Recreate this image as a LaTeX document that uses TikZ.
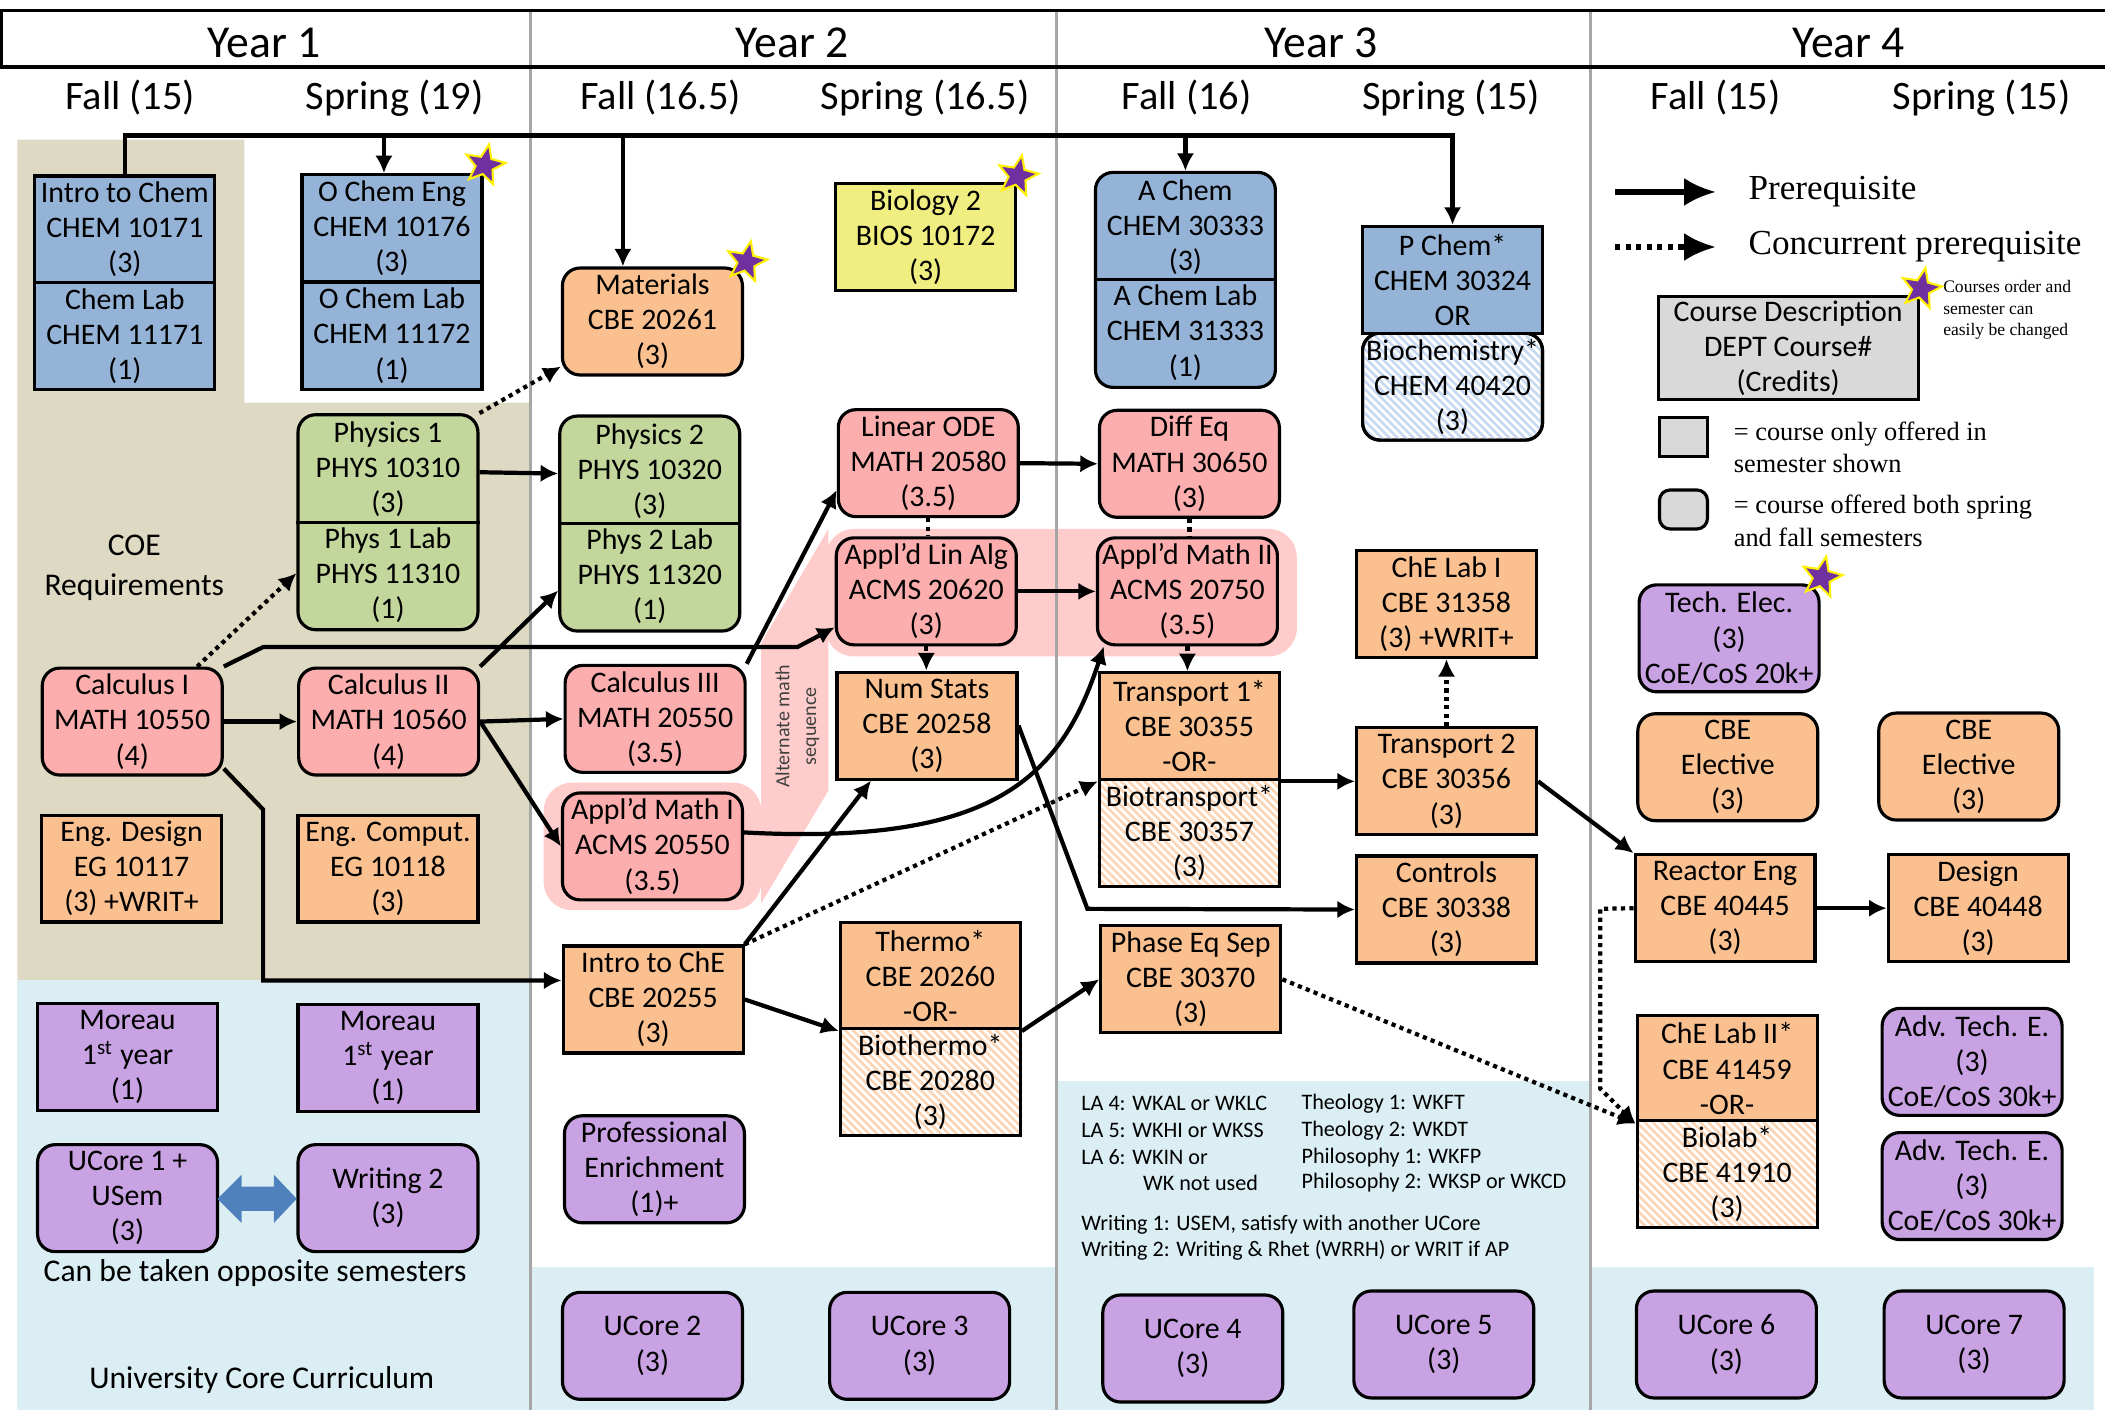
\documentclass[tikz,border=0pt]{standalone}
\usepackage{fontspec}
\setmainfont{Carlito}
\newfontfamily\legfont{Liberation Serif}
\usetikzlibrary{shapes.geometric,patterns.meta,arrows.meta}

\definecolor{chemblue}{HTML}{95B3D7}
\definecolor{physgreen}{HTML}{C3D69B}
\definecolor{mathpink}{HTML}{FCAEAE}
\definecolor{cbeorange}{HTML}{FAC090}
\definecolor{ucorepurple}{HTML}{C8A2E2}
\definecolor{bioyellow}{HTML}{F0EE80}
\definecolor{hlpink}{HTML}{FFCCCC}
\definecolor{coetan}{HTML}{DDD9C3}
\definecolor{ucblue}{HTML}{DBEEF4}
\definecolor{leggray}{HTML}{D9D9D9}
\definecolor{starpurple}{HTML}{7030A0}
\definecolor{dblblue}{HTML}{4F81BD}
\definecolor{hatchorange}{HTML}{FBD4B4}
\definecolor{hatchblue}{HTML}{C6D9F0}
\definecolor{divgray}{HTML}{A6A6A6}

\newcommand{\crsfont}{\fontsize{8.5}{10}\selectfont}

\tikzset{
  course/.style={draw, line width=0.9pt, minimum width=1.8cm, minimum height=1.07cm,
    inner sep=0pt, align=center, font=\crsfont},
  rcourse/.style={course, rounded corners=5pt},
  tall/.style={minimum height=2.15cm},
  chem/.style={fill=chemblue},
  phys/.style={fill=physgreen},
  math/.style={fill=mathpink},
  cbe/.style={fill=cbeorange},
  ucore/.style={fill=ucorepurple},
  bio/.style={fill=bioyellow},
  hatch/.style={fill=white,
    postaction={pattern={Lines[angle=-45,distance=1.6pt,line width=0.75pt]}, pattern color=#1},
    postaction={draw}},
  arr/.style={-{Latex[length=5pt,width=5pt]}, line width=1.2pt},
  dotarr/.style={arr, dash pattern=on 1.2pt off 1.2pt},
  dotln/.style={line width=1.2pt, dash pattern=on 1.2pt off 1.2pt},
  legarr/.style={-{Latex[length=9pt,width=8pt]}, line width=1.5pt},
  pstar/.style={star, star points=5, star point ratio=2.3, minimum size=0.42cm, inner sep=0pt,
    fill=starpurple, draw=yellow, line width=0.6pt, rotate=-12},
  yearlbl/.style={font=\fontsize{13}{15}\selectfont},
  semlbl/.style={font=\fontsize{11.5}{14}\selectfont},
  note/.style={anchor=west, inner sep=0pt, font=\fontsize{6.3}{7.6}\selectfont},
  legtxt/.style={anchor=west, inner sep=0pt, align=left, font=\legfont\fontsize{7.5}{9.2}\selectfont},
  divline/.style={divgray, line width=0.8pt}
}

\begin{document}
\begin{tikzpicture}[x=0.013425cm, y=-0.013425cm]
  \useasboundingbox (0,0) rectangle (1568,1050);

  % backgrounds
  \fill[coetan] (13,104) -- (182,104) -- (182,300) -- (395,300) -- (395,730) -- (13,730) -- cycle;
  \fill[ucblue] (13,730) rectangle (395,1050);
  \fill[ucblue] (395,944) rectangle (1560,1050);
  \fill[ucblue] (787,805) rectangle (1185,944);
  \fill[hlpink, rounded corners=8pt] (615,394) rectangle (966,489);
  \fill[hlpink] (567,673) -- (567,479) -- (617,394) -- (617,589) -- cycle;
  \fill[hlpink, rounded corners=8pt] (405,583) rectangle (567,678);

  % header
  \draw[divline] (395,8) -- (395,1050);
  \draw[divline] (787,8) -- (787,1050);
  \draw[divline] (1185,8) -- (1185,1050);
  \draw[line width=1pt] (0,8) -- (1568,8);
  \draw[line width=1pt] (0,50) -- (1568,50);
  \draw[line width=1pt] (0.8,8) -- (0.8,50);
  \foreach \yx/\yr in {197/1, 590/2, 984/3, 1377/4}
    \node[yearlbl] (year\yr) at (\yx,32) {Year \yr};
  \foreach \sx/\sn [count=\i] in {97/Fall (15), 294/Spring (19), 492/Fall (16.5), 689/Spring (16.5),
      884/Fall (16), 1081/Spring (15), 1278/Fall (15), 1476/Spring (15)}
    \node[semlbl] (sem\i) at (\sx,73) {\sn};

  % year 1
  \node[course, chem] (ichem) at (93,171) {Intro to Chem\\CHEM 10171\\(3)};
  \node[course, chem] (clab) at (93,250.5) {Chem Lab\\CHEM 11171\\(1)};
  \node[course, chem] (ochem) at (292,170) {O Chem Eng\\CHEM 10176\\(3)};
  \node[course, chem] (oclab) at (292,250) {O Chem Lab\\CHEM 11172\\(1)};
  \node[rcourse, phys, tall] (phys1) at (289,389) {Physics 1\\PHYS 10310\\(3)\\Phys 1 Lab\\PHYS 11310\\(1)};
  \draw[line width=0.9pt] (phys1.west) -- (phys1.east);
  \node[font=\fontsize{9}{11.4}\selectfont, align=center] (coe) at (100,423) {COE\\Requirements};
  \node[rcourse, math] (calc1) at (98.5,537.5) {Calculus I\\MATH 10550\\(4)};
  \node[rcourse, math] (calc2) at (289.5,537.5) {Calculus II\\MATH 10560\\(4)};
  \node[course, cbe] (engdes) at (98,647) {Eng. Design\\EG 10117\\(3) +WRIT+};
  \node[course, cbe] (engcomp) at (289,647) {Eng. Comput.\\EG 10118\\(3)};
  \node[course, ucore] (moreau1) at (95,787.5) {Moreau\\1\textsuperscript{st} year\\(1)};
  \node[course, ucore] (moreau2) at (289,788) {Moreau\\1\textsuperscript{st} year\\(1)};
  \node[rcourse, ucore] (ucore1) at (95,892.5) {UCore 1 +\\USem\\(3)};
  \node[rcourse, ucore] (writ2) at (289,892.5) {Writing 2\\(3)};
  \fill[dblblue] (162,893) -- (180,875) -- (180,884) -- (204,884) -- (204,875) -- (221,893)
    -- (204,911) -- (204,902) -- (180,902) -- (180,911) -- cycle;
  \node[font=\fontsize{9}{11}\selectfont] (opp) at (190,948) {Can be taken opposite semesters};
  \node[font=\fontsize{9}{11}\selectfont] (ucc) at (195,1028) {University Core Curriculum};

  % year 2
  \node[rcourse, cbe] (materials) at (486,239.5) {Materials\\CBE 20261\\(3)};
  \node[course, bio] (bio2) at (689.5,176.5) {Biology 2\\BIOS 10172\\(3)};
  \node[rcourse, phys, tall] (phys2) at (484,390) {Physics 2\\PHYS 10320\\(3)\\Phys 2 Lab\\PHYS 11320\\(1)};
  \draw[line width=0.9pt] (phys2.west) -- (phys2.east);
  \node[rcourse, math] (calc3) at (488,535.5) {Calculus III\\MATH 20550\\(3.5)};
  \node[rcourse, math] (amath1) at (486,630.5) {Appl’d Math I\\ACMS 20550\\(3.5)};
  \node[rcourse, math] (linode) at (691.5,345) {Linear ODE\\MATH 20580\\(3.5)};
  \node[rcourse, math] (linalg) at (690,440.5) {Appl’d Lin Alg\\ACMS 20620\\(3)};
  \node[course, cbe] (numstats) at (690.5,540.5) {Num Stats\\CBE 20258\\(3)};
  \node[rotate=90, align=center, text=black!75, font=\fontsize{5.7}{7.6}\selectfont] (altmath) at (594,541) {Alternate math\\sequence};
  \node[course, cbe] (introche) at (486.5,744.5) {Intro to ChE\\CBE 20255\\(3)};
  \node[course, cbe] (thermo) at (693,727) {Thermo*\\CBE 20260\\-OR-};
  \node[course, hatch=hatchorange] (biothermo) at (693,806) {Biothermo*\\CBE 20280\\(3)};
  \node[rcourse, ucore] (profenr) at (487.5,871) {Professional\\Enrichment\\(1)+};
  \node[rcourse, ucore] (ucore2) at (486,1002.5) {UCore 2\\(3)};
  \node[rcourse, ucore] (ucore3) at (685,1002.5) {UCore 3\\(3)};

  % year 3
  \node[rcourse, chem, tall] (achem) at (883,208.5) {A Chem\\CHEM 30333\\(3)\\A Chem Lab\\CHEM 31333\\(1)};
  \draw[line width=0.9pt] (achem.west) -- (achem.east);
  \node[rcourse, hatch=hatchblue] (biochem) at (1082,288) {Biochemistry*\\CHEM 40420\\(3)};
  \node[course, chem] (pchem) at (1082,208.5) {P Chem*\\CHEM 30324\\OR};
  \node[rcourse, math] (diffeq) at (886,345.5) {Diff Eq\\MATH 30650\\(3)};
  \node[rcourse, math] (amath2) at (884.5,440.5) {Appl’d Math II\\ACMS 20750\\(3.5)};
  \node[course, cbe] (transp1) at (886,541) {Transport 1*\\CBE 30355\\-OR-};
  \node[course, hatch=hatchorange] (biotransp) at (886,620.5) {Biotransport*\\CBE 30357\\(3)};
  \node[course, cbe] (phaseq) at (887,729.5) {Phase Eq Sep\\CBE 30370\\(3)};
  \node[course, cbe] (chelab1) at (1077.5,450) {ChE Lab I\\CBE 31358\\(3) +WRIT+};
  \node[course, cbe] (transp2) at (1077.5,582) {Transport 2\\CBE 30356\\(3)};
  \node[course, cbe] (controls) at (1077.5,677.5) {Controls\\CBE 30338\\(3)};
  \node[rcourse, ucore] (ucore4) at (888.5,1004.5) {UCore 4\\(3)};
  \node[rcourse, ucore] (ucore5) at (1075.5,1001.5) {UCore 5\\(3)};
  \node[note] (la4) at (805,822) {LA 4: WKAL or WKLC};
  \node[note] (la5) at (805,842) {LA 5: WKHI or WKSS};
  \node[note] (la6) at (805,862) {LA 6: WKIN or};
  \node[note] (wkn) at (851,881) {WK not used};
  \node[note] (th1) at (969,822) {Theology 1: WKFT};
  \node[note] (th2) at (969,842) {Theology 2: WKDT};
  \node[note] (ph1) at (969,862) {Philosophy 1: WKFP};
  \node[note] (ph2) at (969,881) {Philosophy 2: WKSP or WKCD};
  \node[note] (wr1) at (805,912) {Writing 1: USEM, satisfy with another UCore};
  \node[note] (wr2) at (805,931) {Writing 2: Writing \& Rhet (WRRH) or WRIT if AP};

  % year 4 and legend
  \coordinate (lgs1) at (1203,143);
  \coordinate (lge1) at (1278,143);
  \coordinate (lgs2) at (1203,184);
  \coordinate (lge2) at (1278,184);
  \draw[legarr] (lgs1) -- (lge1);
  \draw[legarr, dash pattern=on 1.5pt off 1.5pt] (lgs2) -- (lge2);
  \node[legtxt, font=\legfont\fontsize{10}{12}\selectfont] (lgt1) at (1302,143) {Prerequisite};
  \node[legtxt, font=\legfont\fontsize{10}{12}\selectfont] (lgt2) at (1302,184) {Concurrent prerequisite};
  \node[course, fill=leggray, minimum width=2.6cm, minimum height=1.03cm] (legbox) at (1332,259.5) {Course Description\\DEPT Course\#\\(Credits)};
  \node[legtxt, font=\legfont\fontsize{5}{6.1}\selectfont] (legnote) at (1447,231) {Courses order and\\semester can\\easily be changed};
  \node[draw, line width=0.9pt, fill=leggray, minimum width=0.48cm, minimum height=0.39cm, inner sep=0pt] (legsq) at (1254,325.5) {};
  \node[draw, line width=0.9pt, fill=leggray, minimum width=0.48cm, minimum height=0.39cm, inner sep=0pt, rounded corners=3pt] (legrd) at (1254,379.5) {};
  \node[legtxt] (legsqt) at (1291,333) {= course only offered in\\semester shown};
  \node[legtxt] (legrdt) at (1291,388) {= course offered both spring\\and fall semesters};
  \node[rcourse, ucore] (techel) at (1288,475.5) {Tech. Elec.\\(3)\\CoE/CoS 20k+};
  \node[rcourse, cbe] (cbeel1) at (1287,571.5) {CBE\\Elective\\(3)};
  \node[rcourse, cbe] (cbeel2) at (1466.5,571) {CBE\\Elective\\(3)};
  \node[course, cbe] (reactor) at (1285,676.5) {Reactor Eng\\CBE 40445\\(3)};
  \node[course, cbe] (design) at (1473.5,676.5) {Design\\CBE 40448\\(3)};
  \node[course, cbe] (chelab2) at (1286.5,796) {ChE Lab II*\\CBE 41459\\-OR-};
  \node[course, hatch=hatchorange] (biolab) at (1286.5,874.5) {Biolab*\\CBE 41910\\(3)};
  \node[rcourse, ucore] (advte1) at (1469,791) {Adv. Tech. E.\\(3)\\CoE/CoS 30k+};
  \node[rcourse, ucore] (advte2) at (1469,883.5) {Adv. Tech. E.\\(3)\\CoE/CoS 30k+};
  \node[rcourse, ucore] (ucore6) at (1286,1001.5) {UCore 6\\(3)};
  \node[rcourse, ucore] (ucore7) at (1470.5,1001.5) {UCore 7\\(3)};

  % stars
  \node[pstar] (star1) at (361,123) {};
  \node[pstar] (star2) at (556,195) {};
  \node[pstar] (star3) at (758,131) {};
  \node[pstar] (star4) at (1431,215) {};
  \node[pstar] (star5) at (1357,430) {};

  % chemistry line
  \coordinate (chemtop) at (1082,101);
  \coordinate (ocdrop) at (286,101);
  \coordinate (matdrop) at (464,101);
  \draw[arr] (ichem.north) |- (chemtop) -- (pchem.north);
  \draw[arr] (ocdrop) -- (ocdrop |- ochem.north);
  \draw[arr] (matdrop) -- (matdrop |- materials.north);
  \draw[arr] (achem.north |- chemtop) -- (achem.north);

  % prerequisites
  \draw[arr] ([yshift=0.5cm]phys1.east) -- ([yshift=0.5cm]phys2.west);
  \draw[dotarr] (phys1.north east) -- ([yshift=0.1cm]materials.south west);
  \draw[dotarr] ([xshift=0.65cm]calc1.north) -- ([yshift=-0.51cm]phys1.west);
  \draw[arr] (calc1.east) -- (calc2.west);
  \draw[arr] (calc1.north east) -- (196,482) -- (594,482) -- ([yshift=-0.36cm]linalg.west);
  \draw[arr] ([yshift=0.08cm]calc1.south east) -- (196,603) |- ([yshift=0.19cm]introche.west);
  \draw[arr] (calc2.north east) -- ([yshift=-0.67cm]phys2.west);
  \draw[arr] (calc2.east) -- (calc3.west);
  \draw[arr] (calc2.east) -- (amath1.west);
  \draw[arr] (calc3.north east) -- ([yshift=-0.27cm]linode.west);
  \draw[arr] (linode.east) -- (diffeq.west);
  \draw[dotln] (linode.south) -- (linode.south |- linalg.north);
  \draw[dotarr] (linalg.south) -- (linalg.south |- numstats.north);
  \draw[arr] (linalg.east) -- (amath2.west);
  \draw[dotln] (diffeq.south) -- (diffeq.south |- amath2.north);
  \draw[dotarr] (amath2.south) -- (amath2.south |- transp1.north);
  \draw[arr] ([yshift=0.14cm]amath1.east) .. controls (740,630) and (790,580) .. ([xshift=0.08cm]amath2.south west);
  \draw[arr] (introche.north east) -- ([xshift=-0.56cm]numstats.south);
  \draw[dotarr] (introche.north east) -- (transp1.south west);
  \draw[arr] (introche.east) -- (thermo.south west);
  \draw[arr] (numstats.east) -- (810,677) -- (controls.west);
  \draw[arr] (thermo.south east) -- (phaseq.west);
  \draw[arr] (transp1.south east) -- (transp1.south east -| transp2.west);
  \draw[dotarr] (transp2.north) -- (chelab1.south);
  \draw[arr] (transp2.east) -- (reactor.north west);
  \draw[arr] (reactor.east) -- (design.west);
  \draw[dotarr] (reactor.west) -- (1192,677) -- (1192,811) -- (chelab2.south west);
  \draw[dotarr] (phaseq.east) -- (chelab2.south west);
\end{tikzpicture}
\end{document}
